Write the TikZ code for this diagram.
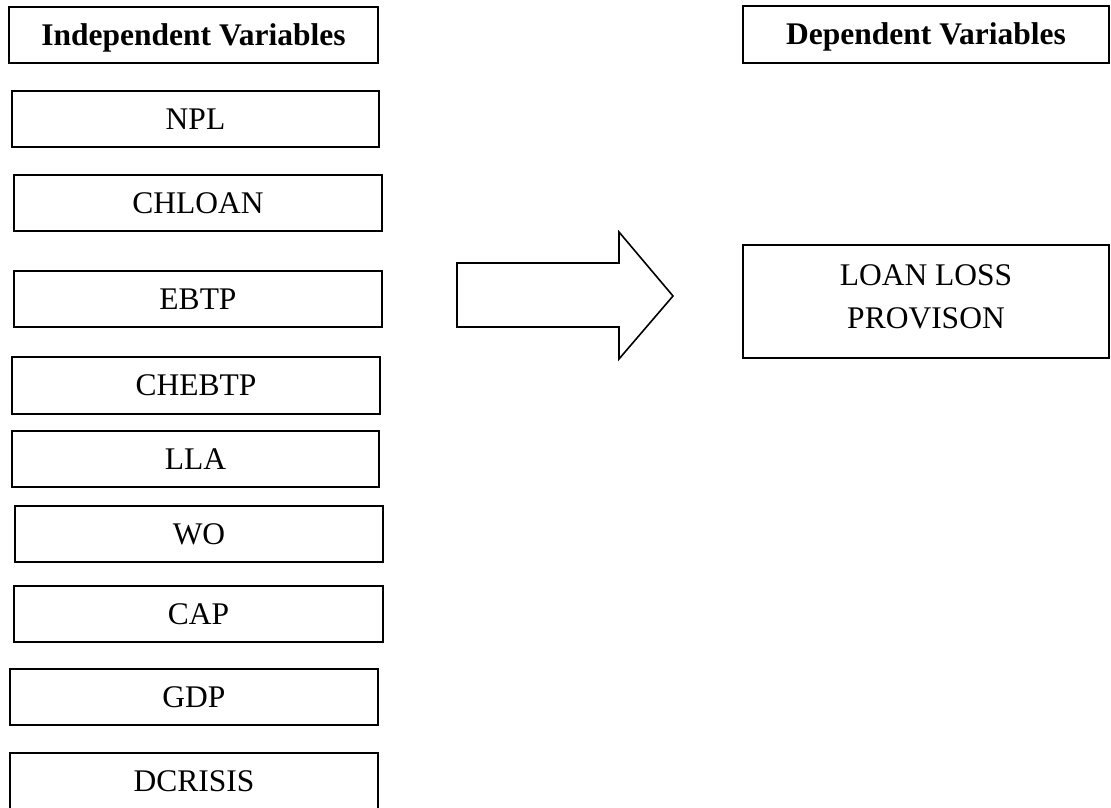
\documentclass[tikz,border=0pt]{standalone}
\usepackage{fontspec}
\setmainfont{Liberation Serif}
\begin{document}
\begin{tikzpicture}[x=1pt,y=-1pt,
  varbox/.style={draw=black, line width=1.6pt, rectangle, inner sep=0pt,
    minimum height=56pt, font=\fontsize{31.5}{43}\selectfont,
    text height=20.8pt, text depth=0pt},
  headbox/.style={varbox, font=\fontsize{31.5}{43}\selectfont\bfseries},
  bigarrow/.style={draw=black, line width=1.6pt, line join=miter, fill=white}]
\clip (0,0) rectangle (1111,808);
\fill[white] (0,0) rectangle (1111,808);
% left column
\node[headbox, minimum width=369pt] (iv) at (193.5,35) {Independent Variables};
\node[varbox, minimum width=367pt] (npl) at (195.5,119) {NPL};
\node[varbox, minimum width=368pt] (chloan) at (198,203) {CHLOAN};
\node[varbox, minimum width=368pt] (ebtp) at (198,299) {EBTP};
\node[varbox, minimum width=368pt, minimum height=57pt] (chebtp) at (196,385.5) {CHEBTP};
\node[varbox, minimum width=367pt] (lla) at (195.5,459) {LLA};
\node[varbox, minimum width=368pt] (wo) at (199,534) {WO};
\node[varbox, minimum width=369pt] (cap) at (198.5,614) {CAP};
\node[varbox, minimum width=368pt] (gdp) at (194,697) {GDP};
\node[varbox, minimum width=368pt] (dcrisis) at (194,781) {DCRISIS};
% right column
\node[headbox, minimum width=366pt, minimum height=57pt] (dv) at (926,34.5) {Dependent Variables};
\node[varbox, minimum width=366pt, minimum height=113pt, align=center,
      text height=63.8pt, text depth=10.8pt] (llp) at (926,301.5) {LOAN LOSS\\PROVISON};
% block arrow
\coordinate (arrtip) at (673,296);
\draw[bigarrow] (457,263) -- (619,263) -- (619,232) -- (arrtip) -- (619,359)
  -- (619,327) -- (457,327) -- cycle;
\end{tikzpicture}
\end{document}
